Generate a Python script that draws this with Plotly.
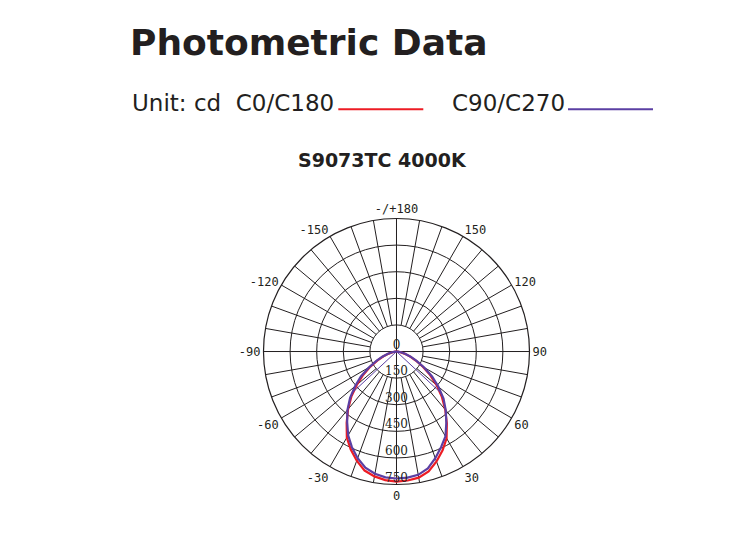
import plotly.graph_objects as go

# gamma angles (deg) for both planes
angles = [-90, -85, -80, -75, -70, -65, -60, -55, -50, -45, -40, -35, -30, -25, -20, -15, -10, -5,
          0, 5, 10, 15, 20, 25, 30, 35, 40, 45, 50, 55, 60, 65, 70, 75, 80, 85, 90]

# C0/C180 intensity (cd)
c0_c180 = [0, 8, 22, 45, 78, 118, 170, 230, 292, 360, 425, 490, 560, 610, 655, 695, 715, 728,
           734, 730, 722, 700, 660, 615, 565, 495, 428, 362, 295, 232, 172, 120, 80, 46, 22, 8, 0]

# C90/C270 intensity (cd)
c90_c270 = [0, 8, 25, 50, 85, 125, 180, 245, 305, 370, 430, 485, 545, 595, 640, 678, 700, 712,
            716, 714, 706, 683, 640, 595, 552, 490, 432, 375, 308, 245, 180, 125, 85, 50, 25, 8, 0]

# straight segments of the C90/C270 curve through the centre
chord_theta = [-47, 0, 47]
chord_r = [350, 0, 335]

radial_ticks = [0, 150, 300, 450, 600, 750]
angle_ticks = [0, 30, 60, 90, 120, 150, 180, 210, 240, 270, 300, 330]
angle_labels = ['0', '30', '60', '90', '120', '150', '-/+180', '-150', '-120', '-90', '-60', '-30']

RED = '#ed1c24'
PURPLE = '#5b3fa3'
INK = '#231f20'
W, H = 731, 535


def px(x):
    return x / W


def py(y):
    return 1 - y / H


fig = go.Figure()

# spokes every 10 deg, the main axes go through the centre
spoke_r, spoke_t = [], []
for a in range(0, 360, 10):
    inner = 0 if a % 90 == 0 else 150
    spoke_r += [inner, 750, None]
    spoke_t += [a, a, None]
fig.add_trace(go.Scatterpolar(r=spoke_r, theta=spoke_t, mode='lines',
                              line=dict(color=INK, width=1), hoverinfo='skip'))

fig.add_trace(go.Scatterpolar(r=c0_c180, theta=angles, mode='lines', name='C0/C180',
                              line=dict(color=RED, width=2.2)))
fig.add_trace(go.Scatterpolar(r=c90_c270, theta=angles, mode='lines', name='C90/C270',
                              line=dict(color=PURPLE, width=2.2)))
fig.add_trace(go.Scatterpolar(r=chord_r, theta=chord_theta, mode='lines',
                              line=dict(color=PURPLE, width=1), hoverinfo='skip'))

fig.add_trace(go.Scatterpolar(r=radial_ticks, theta=[0] * len(radial_ticks), mode='text',
                              text=[str(v) for v in radial_ticks], textposition='top center',
                              textfont=dict(family='DejaVu Serif', size=12, color=INK),
                              hoverinfo='skip'))

fig.update_layout(
    width=W, height=H,
    paper_bgcolor='white',
    margin=dict(l=0, r=0, t=0, b=0),
    showlegend=False,
    polar=dict(
        domain=dict(x=[0.3495, 0.7134], y=[0.1093, 0.6065]),
        bgcolor='white',
        radialaxis=dict(range=[0, 750], tickvals=[150, 300, 450, 600], showticklabels=False,
                        ticks='', showline=False, gridcolor=INK, gridwidth=1),
        angularaxis=dict(rotation=-90, direction='counterclockwise', tickvals=angle_ticks,
                         ticktext=angle_labels, showgrid=False, ticks='',
                         showline=True, linecolor=INK, linewidth=1.2,
                         tickfont=dict(family='DejaVu Sans Mono', size=12, color=INK)),
    ),
)

fig.add_annotation(text='<b>Photometric Data</b>', x=px(120), y=py(34.5), xref='paper', yref='paper',
                   xanchor='left', yanchor='middle', showarrow=False,
                   font=dict(family='DejaVu Sans', size=36, color=INK))
fig.add_annotation(text='Unit: cd&nbsp; C0/C180', x=px(122), y=py(95.3), xref='paper', yref='paper',
                   xanchor='left', yanchor='middle', showarrow=False,
                   font=dict(family='DejaVu Sans', size=23, color=INK))
fig.add_annotation(text='C90/C270', x=px(441.5), y=py(95.3), xref='paper', yref='paper',
                   xanchor='left', yanchor='middle', showarrow=False,
                   font=dict(family='DejaVu Sans', size=23, color=INK))
fig.add_annotation(text='<b>S9073TC 4000K</b>', x=px(375), y=py(152), xref='paper', yref='paper',
                   xanchor='center', yanchor='middle', showarrow=False,
                   font=dict(family='DejaVu Sans', size=19, color=INK))

fig.add_shape(type='line', xref='paper', yref='paper', x0=px(330.3), x1=px(415.3),
              y0=py(101.3), y1=py(101.3), line=dict(color=RED, width=2))
fig.add_shape(type='line', xref='paper', yref='paper', x0=px(560), x1=px(645),
              y0=py(101.3), y1=py(101.3), line=dict(color=PURPLE, width=2))

fig.write_html('out.html')
